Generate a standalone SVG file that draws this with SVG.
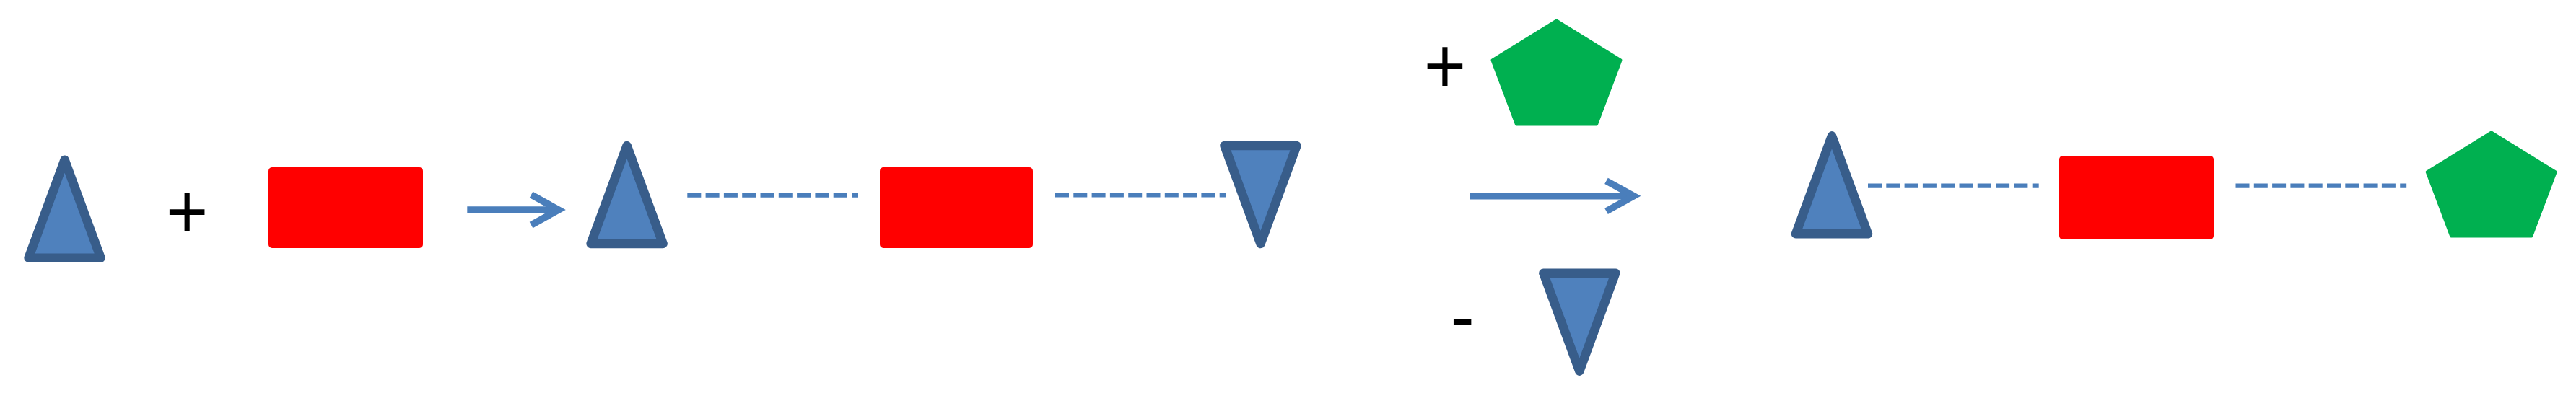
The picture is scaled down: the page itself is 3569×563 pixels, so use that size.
<svg xmlns="http://www.w3.org/2000/svg" width="3569" height="563" viewBox="0 0 3569 563">
<style>
.tri{fill:#4F81BD;stroke:#385D8A;stroke-width:12.5;stroke-linejoin:round}
.box{fill:#FF0000}
.pent{fill:#00B050;stroke:#00B050;stroke-width:4;stroke-linejoin:round}
.dash{fill:none;stroke:#4A7EBB;stroke-width:6.3;stroke-dasharray:19 6.3}
.arrow{fill:none;stroke:#4A7EBB;stroke-width:9.5}
.sign{font-family:"Liberation Sans",Arial,sans-serif;font-size:100px;fill:#000000;text-anchor:middle}
</style>
<defs>
<path id="up" d="M0,-68 L50,68 L-50,68 Z"/>
<path id="down" d="M0,68 L50,-68 L-50,-68 Z"/>
<path id="pentagon" d="M0,2 L89,57 L55.5,146 L-55.5,146 L-89,57 Z"/>
<marker id="head" markerUnits="userSpaceOnUse" markerWidth="60" markerHeight="60" viewBox="-50 -30 60 60" refX="0" refY="0" orient="auto" overflow="visible">
<path d="M-38,-21 L0,0 L-38,21" fill="none" stroke="#4A7EBB" stroke-width="9.5" stroke-linejoin="miter"/>
</marker>
</defs>
<g id="tri1"><use href="#up" class="tri" transform="translate(89.6,289.7)"/></g>
<g id="plus1"><text class="sign" transform="translate(259.3,331.2) scale(1,1.1)">+</text></g>
<g id="rect1"><rect class="box" x="372" y="232" width="214" height="112" rx="5"/></g>
<g id="tri2"><use href="#up" class="tri" transform="translate(868.6,270)"/></g>
<g id="rect2"><rect class="box" x="1219" y="232" width="212" height="112" rx="5"/></g>
<g id="inv1"><use href="#down" class="tri" transform="translate(1746.5,270)"/></g>
<g id="plus2"><text class="sign" transform="translate(2002,129.2) scale(1,1.1)">+</text></g>
<g id="pent1"><use href="#pentagon" class="pent" transform="translate(2156.5,26.5)"/></g>
<g id="minus"><text class="sign" x="2026.2" y="472.7">-</text></g>
<g id="inv2"><use href="#down" class="tri" transform="translate(2188.3,446.7)"/></g>
<g id="tri3"><use href="#up" class="tri" transform="translate(2538,256.3)"/></g>
<g id="rect3"><rect class="box" x="2853" y="216" width="214" height="116" rx="5"/></g>
<g id="pent2"><use href="#pentagon" class="pent" transform="translate(3451.7,181.5)"/></g>
<g id="connectors">
<line class="arrow" x1="647.3" y1="291" x2="774" y2="291" marker-end="url(#head)"/>
<line class="arrow" x1="2036" y1="271.8" x2="2263.5" y2="271.8" marker-end="url(#head)"/>
<line class="dash" x1="952.3" y1="270.7" x2="1189" y2="270.7"/>
<line class="dash" x1="1462" y1="270.3" x2="1698.7" y2="270.3"/>
<line class="dash" x1="2588" y1="257.7" x2="2824.7" y2="257.7"/>
<line class="dash" x1="3097.5" y1="257.7" x2="3334.2" y2="257.7"/>
</g>
</svg>
